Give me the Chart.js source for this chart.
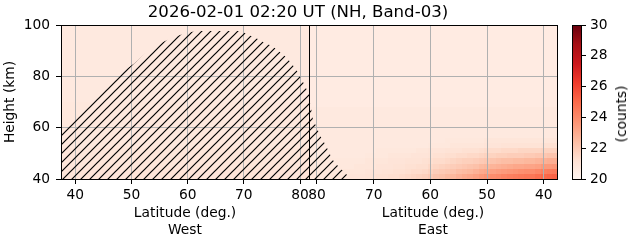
<!DOCTYPE html>
<html>
<head>
<meta charset="utf-8">
<script src="https://cdn.jsdelivr.net/npm/chart.js@4.4.1/dist/chart.umd.min.js"></script>
<style>
  html, body { margin:0; padding:0; background:#fff; }
  #wrap { position:relative; width:631px; height:243px; overflow:hidden; background:#fff; font-family:"DejaVu Sans", sans-serif; color:#000; }
  #wrap canvas { position:absolute; top:0; }
  #title { position:absolute; left:0; top:2px; width:596px; text-align:center; font-size:16.6px; line-height:19px; white-space:nowrap; }
  #cblabel { position:absolute; left:620.7px; top:114px; font-size:13.8px; line-height:16px; white-space:nowrap; transform: translate(-50%,-50%) rotate(-90deg); }
</style>
</head>
<body>
<div id="wrap">
  <canvas id="west" width="329" height="243" style="left:0px;width:329px;height:243px"></canvas>
  <canvas id="east" width="288" height="243" style="left:289px;width:288px;height:243px"></canvas>
  <canvas id="cbar" width="71" height="243" style="left:560px;width:71px;height:243px"></canvas>
  <div id="title"></div>
  <div id="cblabel"></div>
</div>
<script>
// ---------------- texts ----------------
const titleText = '2026-02-01 02:20 UT (NH, Band-03)';
const yTitle = 'Height (km)';
const xTitleWest = ['Latitude (deg.)', 'West'];
const xTitleEast = ['Latitude (deg.)', 'East'];
const cbTitle = '(counts)';

// ---------------- axes ----------------
const heightRange = [40, 100];
const heightTicks = [40, 60, 80, 100];
const westLatRange = [37.45, 81.6];
const eastLatRange = [81.41, 37.65];
const westTicks = [40, 50, 60, 70, 80];
const eastTicks = [80, 70, 60, 50, 40];
const cbRange = [20, 30];
const cbTicks = [20, 22, 24, 26, 28, 30];

// ---------------- heatmap data (counts) ----------------
const heightEdges = [40,42,44,46,48,50,52,54,56,58,60,62,64,66,68,70,72,74,76,78,80,82,84,86,88,90,92,94,96,98,100];
// West: one value per height row (40-42 ... 98-100)
const westRowValues = [21.0,21.0,20.9,20.9,20.9,20.9,20.8,20.8,20.8,20.8,20.8,20.8,20.8,20.8,20.8,
                       20.7,20.7,20.7,20.7,20.7,20.7,20.7,20.7,20.7,20.7,20.7,20.7,20.7,20.7,20.7];
// East: latitude columns (1 deg wide), rows 40-56 km
const eastLat = [81,80,79,78,77,76,75,74,73,72,71,70,69,68,67,66,65,64,63,62,61,60,59,58,57,56,55,54,53,52,51,50,49,48,47,46,45,44,43,42,41,40,39,38];
const east40 = [20.8,20.8,20.8,20.8,20.9,20.9,20.9,21.0,21.0,21.0, 21.1,21.1,21.2,21.2,21.3,21.3,21.4,21.5,21.6,21.7, 21.8,22.0,22.2,22.3,22.5,22.6,22.8,23.0,23.1,23.3, 23.5,23.7,23.9,24.0,24.2,24.3,24.4,24.5,24.6,24.6, 24.8,25.0,25.1,25.2];
const east42 = [20.8,20.8,20.8,20.8,20.8,20.8,20.9,20.9,20.9,20.9, 21.0,21.0,21.0,21.1,21.1,21.2,21.2,21.3,21.4,21.4, 21.5,21.7,21.9,22.0,22.1,22.2,22.4,22.5,22.6,22.8, 23.0,23.1,23.3,23.4,23.5,23.6,23.7,23.8,23.9,23.9, 24.1,24.3,24.4,24.5];
const east44 = [20.8,20.8,20.8,20.8,20.8,20.8,20.8,20.8,20.9,20.9, 20.9,20.9,21.0,21.0,21.0,21.1,21.1,21.2,21.2,21.3, 21.3,21.5,21.6,21.7,21.8,21.9,22.0,22.1,22.2,22.3, 22.5,22.6,22.7,22.8,22.9,23.0,23.1,23.1,23.2,23.2, 23.3,23.5,23.5,23.6];
const east46 = [20.8,20.8,20.8,20.8,20.8,20.8,20.8,20.8,20.8,20.8, 20.9,20.9,20.9,20.9,21.0,21.0,21.0,21.1,21.1,21.1, 21.2,21.3,21.4,21.4,21.5,21.6,21.7,21.8,21.8,21.9, 22.0,22.1,22.2,22.3,22.4,22.4,22.5,22.5,22.6,22.6, 22.7,22.8,22.9,22.9];
const east48 = [20.7,20.7,20.7,20.7,20.7,20.7,20.7,20.7,20.7,20.7, 20.8,20.8,20.8,20.8,20.9,20.9,20.9,20.9,21.0,21.0, 21.0,21.1,21.2,21.2,21.3,21.3,21.4,21.4,21.5,21.5, 21.6,21.7,21.7,21.8,21.8,21.9,21.9,21.9,22.0,22.0, 22.1,22.1,22.2,22.2];
const east50 = [20.7,20.7,20.7,20.7,20.7,20.7,20.7,20.7,20.7,20.7, 20.7,20.7,20.8,20.8,20.8,20.8,20.8,20.8,20.8,20.9, 20.9,21.0,21.0,21.0,21.1,21.1,21.1,21.2,21.2,21.2, 21.3,21.4,21.4,21.4,21.5,21.5,21.5,21.6,21.6,21.6, 21.6,21.7,21.7,21.7];
const east52 = [20.7,20.7,20.7,20.7,20.7,20.7,20.7,20.7,20.7,20.7, 20.7,20.7,20.7,20.7,20.7,20.7,20.7,20.7,20.7,20.7, 20.7,20.8,20.8,20.8,20.8,20.9,20.9,20.9,20.9,20.9, 20.9,21.0,21.0,21.0,21.1,21.1,21.1,21.1,21.1,21.1, 21.1,21.2,21.2,21.2];
const east54 = [20.7,20.7,20.7,20.7,20.7,20.7,20.7,20.7,20.7,20.7, 20.7,20.7,20.7,20.7,20.7,20.7,20.7,20.7,20.7,20.7, 20.7,20.7,20.7,20.7,20.8,20.8,20.8,20.8,20.8,20.8, 20.8,20.9,20.9,20.9,20.9,20.9,20.9,20.9,20.9,20.9, 20.9,20.9,20.9,20.9];
// East above 56 km: one value per height row (56-58 ... 98-100)
const eastUpperValues = [20.7,20.7,20.7,20.7,20.7,20.7,20.6,20.6,20.6,20.6,20.6,20.6,20.6,20.6,20.6,20.6,20.6,20.6,20.6,20.6,20.6,20.6];

// ---------------- hatched (masked) region: upper boundary ----------------
const westHatchLat = [37.45,38.5,39.5,40.5,41.5,42.5,43.5,44.5,45.5,46.5,47.5,48.5,49.5,50.5,51.5,52.5,53.5,54.5,55.5,56.5,57.5,58.5,59.5,60.5,61.5,69.5,70.5,71.5,72.5,73.5,74.5,75.5,76.5,77.5,78.5,79.5,80.5,81.6];
const westHatchTop = [59,61,63.5,66,68,70,72,74,76.5,79,80.5,82,83.5,85,87,89,90.5,92,93.3,94.3,95,96,96.7,97.2,97.7,97.7,96.5,95.5,94.5,93.3,92.3,91,89.3,87.5,85,82,78,73];
const eastHatchLat = [81.41,81.0,80.7,80.0,79.5,78.8,78.2,77.7,77.2,76.6,76.0,75.3,74.7,74.3];
const eastHatchTop = [72,67,63,60,57,54.5,52,49.5,47.4,45.8,44.3,43,41.6,40];

// ---------------- colormap (matplotlib "Reds") ----------------
const redsStops = [[255,245,240],[254,224,210],[252,187,161],[252,146,114],[251,106,74],[239,59,44],[203,24,29],[165,15,21],[103,0,13]];
function redsColor(v) {
  let t = (v - cbRange[0]) / (cbRange[1] - cbRange[0]);
  t = Math.max(0, Math.min(1, t));
  const p = t * (redsStops.length - 1);
  const i = Math.min(redsStops.length - 2, Math.floor(p));
  const f = p - i;
  const a = redsStops[i], b = redsStops[i + 1];
  const c = a.map((x, k) => Math.round(x + (b[k] - x) * f));
  return 'rgb(' + c.join(',') + ')';
}

// ---------------- build cells ----------------
const westCells = westRowValues.map((v, i) => ({x0: westLatRange[0], x1: westLatRange[1], y0: heightEdges[i], y1: heightEdges[i + 1], v}));
const eastCells = [];
eastUpperValues.forEach((v, i) => eastCells.push({x0: eastLatRange[0], x1: eastLatRange[1], y0: heightEdges[8 + i], y1: heightEdges[9 + i], v}));
[east40, east42, east44, east46, east48, east50, east52, east54].forEach((row, r) => {
  row.forEach((v, c) => eastCells.push({x0: eastLat[c] + 0.5, x1: eastLat[c] - 0.5, y0: heightEdges[r], y1: heightEdges[r + 1], v}));
});

// ---------------- plugins ----------------
const heatmapPlugin = {
  id: 'heatmap',
  beforeDraw(chart, args, opts) {
    const cells = opts.cells;
    if (!cells) return;
    const {ctx, chartArea: a, scales} = chart;
    const xs = scales.x, ys = scales.y;
    ctx.save();
    ctx.beginPath();
    ctx.rect(a.left, a.top, a.right - a.left, a.bottom - a.top);
    ctx.clip();
    for (const c of cells) {
      const px0 = Math.round(xs.getPixelForValue(c.x0)), px1 = Math.round(xs.getPixelForValue(c.x1));
      const py0 = Math.round(ys.getPixelForValue(c.y0)), py1 = Math.round(ys.getPixelForValue(c.y1));
      ctx.fillStyle = redsColor(c.v);
      ctx.fillRect(Math.min(px0, px1), Math.min(py0, py1), Math.abs(px1 - px0), Math.abs(py1 - py0));
    }
    ctx.restore();
  }
};
const framePlugin = {
  id: 'frame',
  afterDraw(chart) {
    const {ctx, chartArea: a} = chart;
    ctx.save();
    ctx.strokeStyle = '#000';
    ctx.lineWidth = 1;
    ctx.strokeRect(Math.round(a.left) + 0.5, Math.round(a.top) + 0.5, Math.round(a.right - a.left), Math.round(a.bottom - a.top));
    ctx.restore();
  }
};

function makeHatch(dx) {
  const s = 9;
  const c = document.createElement('canvas');
  c.width = s; c.height = s;
  const g = c.getContext('2d');
  g.strokeStyle = '#000';
  g.lineWidth = 1.2;
  g.beginPath();
  g.moveTo(0, s); g.lineTo(s, 0);
  g.moveTo(-1, 1); g.lineTo(1, -1);
  g.moveTo(s - 1, s + 1); g.lineTo(s + 1, s - 1);
  g.stroke();
  const p = g.createPattern(c, 'repeat');
  p.setTransform(new DOMMatrix().translate(dx, 0));
  return p;
}

Chart.defaults.font.family = '"DejaVu Sans", sans-serif';
Chart.defaults.font.size = 13.8;
Chart.defaults.color = '#000';

const gridOpts = {color: '#b0b0b0', lineWidth: 1, tickColor: '#000', tickLength: 5, tickWidth: 1};

function xScale(range, ticks, title) {
  return {
    type: 'linear',
    min: Math.min(range[0], range[1]),
    max: Math.max(range[0], range[1]),
    reverse: range[0] > range[1],
    afterBuildTicks: s => { s.ticks = ticks.map(v => ({value: v})); },
    afterFit: s => { s.height = 64; },
    ticks: {padding: 3, color: '#000'},
    grid: gridOpts,
    border: {display: false},
    title: {display: true, text: title, color: '#000', font: {size: 13.8, lineHeight: '17px'}, padding: {top: 0, bottom: 4.5}}
  };
}

function panel(canvasId, range, ticks, xTitle, cells, hatchLat, hatchTop, dx, showY) {
  const yOpts = {
    type: 'linear', min: heightRange[0], max: heightRange[1],
    afterBuildTicks: s => { s.ticks = heightTicks.map(v => ({value: v})); },
    border: {display: false}
  };
  if (showY) {
    Object.assign(yOpts, {
      afterFit: s => { s.width = 61; },
      ticks: {padding: 6, color: '#000'},
      grid: gridOpts,
      title: {display: true, text: yTitle, color: '#000', padding: {top: 2, bottom: 0}}
    });
  } else {
    Object.assign(yOpts, {
      afterFit: s => { s.width = 0; },
      ticks: {display: false},
      grid: Object.assign({}, gridOpts, {drawTicks: false})
    });
  }
  return new Chart(document.getElementById(canvasId), {
    type: 'line',
    data: {
      datasets: [{
        data: hatchLat.map((x, i) => ({x, y: hatchTop[i]})),
        fill: 'start',
        backgroundColor: makeHatch(dx),
        borderColor: 'rgba(0,0,0,0)',
        borderWidth: 0,
        pointRadius: 0,
        tension: 0
      }]
    },
    options: {
      responsive: false, animation: false, devicePixelRatio: 1, events: [],
      layout: {padding: {left: showY ? 0 : 20, right: 20, top: 25, bottom: 0}},
      scales: {x: xScale(range, ticks, xTitle), y: yOpts},
      plugins: {legend: {display: false}, tooltip: {enabled: false}, heatmap: {cells}}
    },
    plugins: [heatmapPlugin, framePlugin]
  });
}

panel('west', westLatRange, westTicks, xTitleWest, westCells, westHatchLat, westHatchTop, 8, true);
panel('east', eastLatRange, eastTicks, xTitleEast, eastCells, eastHatchLat, eastHatchTop, 7, false);

// ---------------- colorbar ----------------
new Chart(document.getElementById('cbar'), {
  type: 'bar',
  data: {
    labels: [''],
    datasets: [{
      data: [[cbRange[0], cbRange[1]]],
      backgroundColor: (ctx) => {
        const chart = ctx.chart, a = chart.chartArea;
        if (!a) return '#fff';
        const g = chart.ctx.createLinearGradient(0, a.bottom, 0, a.top);
        redsStops.forEach((c, i) => g.addColorStop(i / (redsStops.length - 1), 'rgb(' + c.join(',') + ')'));
        return g;
      },
      borderWidth: 0,
      barPercentage: 1,
      categoryPercentage: 1
    }]
  },
  options: {
    responsive: false, animation: false, devicePixelRatio: 1, events: [],
    layout: {padding: {left: 12, right: 0, top: 25, bottom: 64}},
    scales: {
      x: {display: false},
      y: {
        position: 'right', min: cbRange[0], max: cbRange[1],
        afterBuildTicks: s => { s.ticks = cbTicks.map(v => ({value: v})); },
        afterFit: s => { s.width = 50; },
        ticks: {padding: 4, color: '#000'},
        grid: {drawOnChartArea: false, tickColor: '#000', tickLength: 5, tickWidth: 1},
        border: {display: false}
      }
    },
    plugins: {legend: {display: false}, tooltip: {enabled: false}}
  },
  plugins: [framePlugin]
});

document.getElementById('title').textContent = titleText;
document.getElementById('cblabel').textContent = cbTitle;
</script>
</body>
</html>
